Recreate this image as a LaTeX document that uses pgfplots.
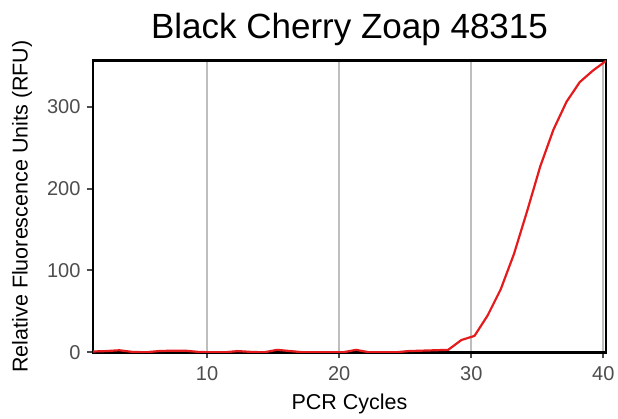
\documentclass[border=0pt]{standalone}
\usepackage{fontspec}
\setmainfont{Liberation Sans}
\usepackage{pgfplots}
\pgfplotsset{compat=1.18}
\definecolor{curvered}{HTML}{E41A1C}
\definecolor{gridgray}{HTML}{BEBEBE}
\definecolor{tickgray}{HTML}{4D4D4D}

\begin{document}
\begin{tikzpicture}[x=1pt,y=1pt]
\useasboundingbox (0,0) rectangle (618,418);
\begin{axis}[
    at={(93pt,65.7pt)}, anchor=south west,
    scale only axis, width=513pt, height=291.6pt,
    xmin=1.36, xmax=40.2, ymin=0, ymax=356.2,
    xtick={10,20,30,40}, ytick={0,100,200,300},
    xtick pos=left, ytick pos=left,
    tick align=outside, major tick length=6pt,
    every tick/.style={tickgray, line width=2pt},
    axis line style={black, line width=2.4pt},
    xmajorgrids, ymajorgrids=false,
    major grid style={gridgray, line width=2pt},
    ticklabel style={font=\fontsize{20}{24}\selectfont, text=tickgray},
    xticklabel style={yshift=-5pt},
    yticklabel style={xshift=-3pt},
    /pgf/number format/assume math mode=true,
    xlabel={PCR Cycles}, ylabel={Relative Fluorescence Units (RFU)},
    label style={font=\fontsize{21.5}{25}\selectfont},
    xlabel style={at={(axis description cs:0.5,0)}, anchor=center, yshift=-51.7pt},
    ylabel style={at={(axis description cs:0,0.5)}, anchor=center, rotate=0, yshift=71pt},
    title={Black Cherry Zoap 48315},
    title style={font=\fontsize{35}{40}\selectfont, yshift=5pt},
    clip=true,
]
\addplot[curvered, line width=2.2pt] coordinates {
(1.36,1) (2.36,1.5) (3.35,2.5) (4.35,0.5) (5.34,0) (6.34,1.5) (7.34,2) (8.33,2)
(9.33,0.5) (10.32,0) (11.32,0) (12.32,1.5) (13.31,0.5) (14.31,0) (15.30,3) (16.30,1.5)
(17.30,0) (18.29,0) (19.29,0) (20.28,0) (21.28,3) (22.27,0) (23.27,0) (24.27,0)
(25.26,1.5) (26.26,2) (27.25,2.5) (28.25,3) (29.25,15) (30.24,20) (31.24,45) (32.23,77)
(33.23,120) (34.22,172) (35.22,227) (36.22,272) (37.21,306) (38.21,330) (39.20,344) (40.20,356)
};
\end{axis}
\end{tikzpicture}
\end{document}
